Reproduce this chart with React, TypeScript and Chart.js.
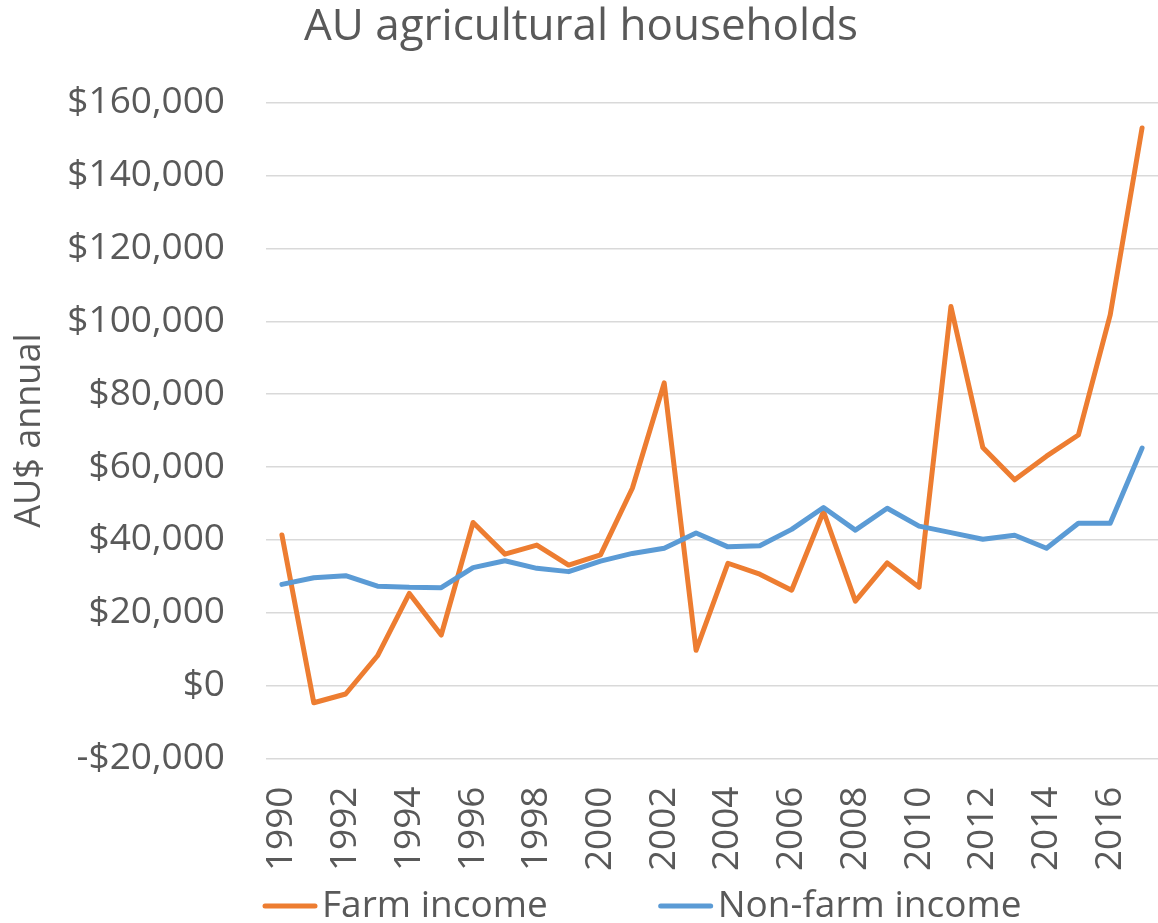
import React, { useEffect, useRef } from "react";
import { Chart, registerables } from "chart.js";

Chart.register(...registerables);

const years = ["1990","1991","1992","1993","1994","1995","1996","1997","1998","1999","2000","2001","2002","2003","2004","2005","2006","2007","2008","2009","2010","2011","2012","2013","2014","2015","2016","2017"];
const farmIncome = [41350, -4700, -2300, 8200, 25300, 13900, 44800, 36100, 38600, 33100, 35900, 54200, 83100, 9700, 33600, 30600, 26200, 47800, 23200, 33700, 27000, 104100, 65400, 56500, 63000, 68800, 101800, 153100];
const nonFarmIncome = [27800, 29600, 30200, 27300, 27000, 26900, 32400, 34300, 32200, 31300, 34200, 36300, 37700, 41900, 38100, 38400, 42900, 48900, 42700, 48700, 43800, 42000, 40200, 41300, 37700, 44600, 44600, 65200];
const seriesNames = ["Farm income", "Non-farm income"];
const titleText = "AU agricultural households";
const yTitle = "AU$ annual";
const yMin = -20000;
const yMax = 160000;
const yStep = 20000;

const TEXT = "#595959";
const FONT = "'Open Sans', sans-serif";

// bottom legend drawn on the canvas (Excel-like placement)
const legendPlugin = {
  id: "excelLegend",
  afterDraw(chart: any) {
    const ctx = chart.ctx as CanvasRenderingContext2D;
    ctx.save();
    ctx.font = `37px ${FONT}`;
    ctx.textBaseline = "middle";
    ctx.textAlign = "left";
    const y = 906;
    let x = 262;
    chart.data.datasets.forEach((ds: any) => {
      ctx.strokeStyle = ds.borderColor;
      ctx.lineWidth = 5;
      ctx.lineCap = "round";
      ctx.beginPath();
      ctx.moveTo(x + 3, y);
      ctx.lineTo(x + 53, y);
      ctx.stroke();
      x += 60;
      ctx.fillStyle = TEXT;
      ctx.fillText(ds.label, x, y);
      x += ctx.measureText(ds.label).width + 110;
    });
    ctx.restore();
  },
};

export default function App() {
  const ref = useRef<HTMLCanvasElement | null>(null);
  useEffect(() => {
    if (!ref.current) return;
    const chart = new Chart(ref.current, {
      type: "line",
      data: {
        labels: years,
        datasets: [
          {
            label: seriesNames[0],
            data: farmIncome,
            borderColor: "#ED7D31",
            backgroundColor: "#ED7D31",
            borderWidth: 5,
            pointRadius: 0,
            tension: 0,
            borderJoinStyle: "round",
            borderCapStyle: "round",
            order: 1,
          },
          {
            label: seriesNames[1],
            data: nonFarmIncome,
            borderColor: "#5B9BD5",
            backgroundColor: "#5B9BD5",
            borderWidth: 5,
            pointRadius: 0,
            tension: 0,
            borderJoinStyle: "round",
            borderCapStyle: "round",
            order: 0,
          },
        ],
      },
      options: {
        responsive: false,
        animation: false,
        layout: { padding: { left: 0, right: -4, top: 0, bottom: 49.5 } },
        plugins: {
          title: {
            display: true,
            text: titleText,
            color: TEXT,
            font: { family: FONT, size: 44, weight: "normal" },
            padding: { top: 1, bottom: 49 },
          },
          legend: { display: false },
          tooltip: { enabled: false },
        },
        scales: {
          x: {
            type: "category",
            offset: true,
            grid: { display: false, drawTicks: true, tickLength: 28 },
            border: { display: false },
            ticks: {
              color: TEXT,
              font: { family: FONT, size: 37 },
              autoSkip: false,
              minRotation: 90,
              maxRotation: 90,
              padding: 0,
              callback: (_v: any, i: number) => (i % 2 === 0 ? years[i] : null),
            },
            afterFit: (scale: any) => {
              scale.height = 115;
            },
          },
          y: {
            min: yMin,
            max: yMax,
            grid: { color: "#D9D9D9", lineWidth: 1.5, drawTicks: false },
            border: { display: false },
            ticks: {
              stepSize: yStep,
              color: TEXT,
              font: { family: FONT, size: 37 },
              padding: 41,
              callback: (v: any) => {
                const n = Number(v);
                const s = Math.abs(n).toLocaleString("en-US");
                return n < 0 ? "-$" + s : "$" + s;
              },
            },
            title: {
              display: true,
              text: yTitle,
              color: TEXT,
              font: { family: FONT, size: 36 },
              padding: { top: 8, bottom: 4 },
            },
            afterFit: (scale: any) => {
              scale.width = 266;
            },
          },
        },
      },
      plugins: [legendPlugin],
    });
    return () => chart.destroy();
  }, []);
  return (
    <div style={{ position: "absolute", left: 0, top: 0, width: 1158, height: 923, overflow: "hidden", background: "#fff" }}>
      <canvas ref={ref} width={1158} height={923} style={{ display: "block" }} />
    </div>
  );
}
